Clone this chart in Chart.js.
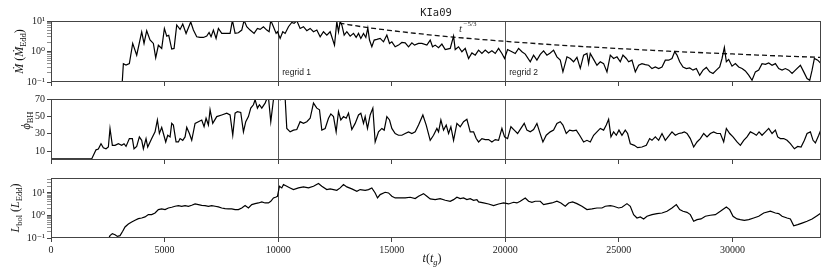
<!DOCTYPE html>
<html>
<head>
<meta charset="utf-8">
<script src="https://cdn.jsdelivr.net/npm/chart.js@4.4.1/dist/chart.umd.min.js"></script>
<style>
  html, body { margin: 0; padding: 0; background: #fff; }
  #wrap { position: relative; width: 830px; height: 277px; }
  canvas { position: absolute; left: 0; }
</style>
</head>
<body>
<div id="wrap">
  <canvas id="mdotChart" width="830" height="90" style="top:0"></canvas>
  <canvas id="phiChart" width="830" height="80" style="top:90px"></canvas>
  <canvas id="lbolChart" width="830" height="107" style="top:170px"></canvas>
</div>
<script>
// --- DATA ---
const tMdot = [3112, 3186, 3303, 3450, 3597, 3773, 3993, 4096, 4213, 4360, 4507, 4610, 4727, 4874, 4992, 5095, 5183, 5315, 5418, 5535,
  5682, 5800, 5947, 6152, 6269, 6416, 6563, 6710, 6857, 6960, 7047, 7150, 7268, 7370, 7517, 7664, 7884, 7987, 8105, 8251,
  8398, 8501, 8618, 8765, 8941, 9088, 9206, 9353, 9500, 9602, 9676, 9793, 9911, 9970, 10088, 10205, 10308, 10455, 10601, 10704,
  10822, 10968, 11115, 11262, 11409, 11556, 11703, 11850, 11996, 12143, 12290, 12481, 12584, 12657, 12731, 12804, 12907, 13024, 13171, 13318,
  13435, 13538, 13641, 13758, 13861, 13949, 14022, 14125, 14228, 14345, 14492, 14639, 14786, 14904, 15006, 15153, 15300, 15447, 15594, 15741,
  15888, 16005, 16181, 16328, 16548, 16695, 16798, 16915, 17062, 17209, 17356, 17576, 17723, 17796, 17943, 18090, 18237, 18384, 18531, 18677,
  18824, 18971, 19118, 19265, 19411, 19558, 19705, 19852, 19969, 20101, 20292, 20439, 20586, 20733, 20879, 21100, 21246, 21393, 21540, 21687,
  21834, 21980, 22127, 22274, 22421, 22538, 22715, 22861, 23008, 23155, 23302, 23449, 23596, 23669, 23742, 23889, 24036, 24183, 24330, 24477,
  24624, 24770, 24917, 25064, 25181, 25328, 25431, 25578, 25725, 25872, 26018, 26165, 26312, 26459, 26606, 26753, 26900, 27046, 27193, 27340,
  27457, 27560, 27678, 27825, 27972, 28119, 28265, 28412, 28559, 28706, 28853, 29000, 29146, 29293, 29440, 29543, 29646, 29733, 29836, 29983,
  30130, 30277, 30424, 30570, 30717, 30864, 31011, 31158, 31304, 31451, 31598, 31745, 31892, 32038, 32185, 32332, 32479, 32626, 32772, 32993,
  33140, 33286, 33404, 33507, 33609, 33756, 33900];
const mdot = [0.05, 0.40, 0.36, 0.40, 1.84, 0.76, 4.4, 1.84, 4.8, 2.4, 1.84, 0.62, 1.6, 1.26, 5.7, 3.2, 3.4, 1.2, 1.26, 7.4,
  5.3, 8.0, 3.9, 9.3, 5.05, 3.04, 2.89, 2.89, 3.2, 4.2, 3.04, 5.05, 2.68, 5.7, 3.92, 3.92, 3.92, 10.5, 3.92, 4.1,
  5.05, 10.5, 6.5, 5.05, 3.92, 5.7, 5.3, 6.5, 5.05, 4.45, 10.5, 6.5, 3.92, 4.45, 2.68, 4.45, 3.92, 6.5, 9.0, 8.4,
  10.2, 5.7, 6.5, 4.8, 5.7, 4.45, 5.05, 3.04, 4.45, 3.45, 4.45, 1.62, 9.5, 4.45, 9.5, 7.4, 3.45, 4.45, 3.2, 3.92,
  2.89, 3.92, 2.68, 3.92, 2.89, 5.9, 2.37, 1.43, 2.37, 2.49, 2.68, 2.08, 3.45, 1.84, 2.08, 1.43, 1.62, 1.98, 1.93, 1.43,
  1.93, 1.62, 1.84, 1.84, 1.62, 2.37, 1.43, 1.62, 1.33, 1.75, 1.16, 1.26, 3.2, 1.16, 1.43, 0.98, 1.26, 0.59, 0.90, 0.76,
  1.11, 0.86, 1.11, 0.90, 1.05, 0.86, 1.26, 0.86, 0.59, 1.16, 0.98, 0.86, 1.26, 0.98, 0.82, 0.46, 0.76, 0.52, 0.80, 1.05,
  0.76, 0.90, 1.11, 0.67, 0.52, 0.215, 0.67, 0.59, 0.46, 0.64, 0.28, 0.76, 0.86, 0.40, 0.86, 0.55, 0.355, 0.46, 0.40, 0.215,
  0.76, 0.59, 0.67, 0.46, 0.76, 0.59, 0.46, 0.52, 0.215, 0.355, 0.40, 0.37, 0.355, 0.276, 0.31, 0.276, 0.31, 0.52, 0.52, 0.59,
  0.98, 0.76, 0.46, 0.31, 0.276, 0.29, 0.245, 0.276, 0.167, 0.245, 0.30, 0.215, 0.19, 0.245, 0.31, 0.59, 1.36, 0.46, 0.55, 0.33,
  0.40, 0.31, 0.276, 0.23, 0.167, 0.114, 0.215, 0.245, 0.40, 0.38, 0.42, 0.355, 0.40, 0.276, 0.245, 0.276, 0.245, 0.19, 0.245, 0.355,
  0.215, 0.13, 0.114, 0.245, 0.59, 0.52, 0.40];

// t^-5/3 guide, points
const tFit = [12700, 13800, 15000, 16000, 17500, 20000, 22500, 25000, 27500, 30000, 32000, 33900];
const mdotFit = [8.5, 6.3, 4.84, 3.97, 3.07, 2.15, 1.60, 1.25, 1.0, 0.83, 0.72, 0.64];

const tPhi = [0, 1791, 1982, 2084, 2202, 2305, 2422, 2525, 2598, 2701, 2819, 2966, 3112, 3215, 3303, 3450, 3582, 3655, 3773, 3890,
  3993, 4067, 4184, 4258, 4434, 4581, 4684, 4772, 4874, 4948, 5051, 5139, 5242, 5315, 5388, 5506, 5609, 5682, 5800, 5902,
  5976, 6093, 6196, 6343, 6490, 6636, 6739, 6827, 6930, 7003, 7121, 7297, 7517, 7737, 7884, 8002, 8105, 8207, 8354, 8472,
  8574, 8692, 8795, 8912, 8986, 9088, 9177, 9280, 9426, 9500, 9573, 9676, 9793, 9940, 10088, 10205, 10308, 10381, 10528, 10675,
  10822, 10968, 11115, 11262, 11409, 11556, 11703, 11820, 11923, 12070, 12217, 12320, 12437, 12554, 12657, 12760, 12877, 12995, 13098, 13244,
  13391, 13538, 13641, 13758, 13832, 13934, 14052, 14169, 14272, 14419, 14566, 14669, 14786, 14904, 15006, 15153, 15300, 15447, 15594, 15741,
  15888, 16034, 16181, 16372, 16519, 16695, 16842, 16989, 17062, 17165, 17282, 17400, 17503, 17605, 17723, 17870, 18016, 18163, 18310, 18457,
  18604, 18721, 18824, 18971, 19118, 19265, 19411, 19558, 19705, 19852, 19969, 20101, 20248, 20395, 20542, 20689, 20835, 20953, 21100, 21246,
  21393, 21510, 21657, 21804, 21980, 22127, 22274, 22421, 22538, 22685, 22832, 22979, 23126, 23273, 23449, 23596, 23742, 23889, 24036, 24183,
  24330, 24447, 24550, 24653, 24770, 24888, 25005, 25137, 25282, 25387, 25504, 25681, 25827, 26018, 26209, 26356, 26459, 26606, 26753, 26900,
  27046, 27193, 27340, 27487, 27634, 27780, 27883, 28001, 28147, 28294, 28441, 28588, 28735, 28882, 29028, 29175, 29322, 29469, 29616, 29733,
  29880, 30027, 30203, 30350, 30497, 30643, 30790, 30937, 31055, 31172, 31304, 31451, 31598, 31745, 31892, 31994, 32112, 32259, 32406, 32552,
  32728, 32875, 33022, 33169, 33286, 33433, 33550, 33653, 33800, 33900];
const phi = [1.2, 1.2, 11.7, 12.5, 18.7, 14.1, 12.9, 14.9, 36.2, 16.8, 16.8, 18.7, 16.8, 18.7, 15.6, 24.6, 24.6, 12.9, 15.6, 26.5,
  22.6, 12.9, 24.6, 14.9, 24.6, 32.3, 45.9, 30.4, 37.4, 30.4, 20.7, 28.4, 26.5, 42, 40.1, 20.7, 20.7, 24.6, 22.6, 26.5,
  37.4, 30.4, 22.6, 42, 44, 45.9, 38.2, 47.9, 40.1, 57.6, 42, 49.8, 51.7, 53.7, 51.7, 28.4, 53.7, 55.6, 54.5, 32.3,
  44, 49.8, 59.5, 63.4, 69.2, 59.5, 63.4, 59.5, 65.3, 70, 72, 44, 69.2, 75, 69.2, 75, 71.2, 36.2, 32.3, 34.3,
  35, 44, 42, 44, 47.9, 65.3, 59.5, 57.6, 34.3, 36.2, 47.9, 52.9, 49.8, 32.3, 55.6, 45.9, 49.8, 47.9, 53.7, 35,
  42, 51.7, 53.7, 42, 49.8, 36.2, 51.7, 59.5, 20.7, 32.3, 36.2, 34.3, 49.8, 45.9, 36.2, 30.4, 28.4, 28.4, 30.4, 32.3,
  30.4, 32.3, 40.1, 51.7, 40.1, 22.6, 28.4, 36.2, 32.3, 45.9, 34.3, 40.1, 30.4, 38.2, 22.6, 42, 38.2, 44, 46.7, 32.3,
  32.3, 24.6, 20.7, 24.6, 23.4, 23.4, 20.7, 23.4, 22.6, 36.2, 26.5, 24.6, 38.2, 34.3, 30.4, 36.2, 42, 34.3, 32.3, 35,
  42, 32.3, 20.7, 28.4, 32.3, 34.3, 42, 44, 40.1, 30.4, 34.3, 33.5, 34.3, 28.4, 20.7, 22.6, 20.7, 28.4, 32.3, 36.2,
  34.3, 40.1, 46.7, 26.5, 32.3, 28.4, 34.3, 28.4, 34.3, 30.4, 18.7, 16.8, 14.1, 14.9, 16.8, 24.6, 22.6, 26.5, 22.6, 30.4,
  22.6, 27.3, 32.3, 28.4, 30.4, 31.2, 32.3, 30.4, 24.6, 14.9, 20.7, 24.6, 30.4, 26.5, 30.4, 32.3, 30.4, 30.4, 20.7, 36.2,
  30.4, 26.5, 20.7, 16.8, 22.6, 26.5, 32.3, 30.4, 28.4, 32.3, 28.4, 32.3, 36.2, 30.4, 34.3, 26.5, 24.6, 24.6, 22.6, 18.7,
  12.9, 15.6, 14.9, 22.6, 30.4, 32.3, 22.6, 19.5, 28.4, 35];

const tLbol = [2525, 2598, 2701, 2819, 2922, 3039, 3156, 3259, 3406, 3553, 3700, 3846, 3993, 4140, 4287, 4434, 4581, 4727, 4874, 5021,
  5168, 5315, 5462, 5609, 5755, 5902, 6049, 6196, 6343, 6490, 6636, 6783, 6930, 7077, 7224, 7370, 7517, 7664, 7811, 7958,
  8105, 8251, 8398, 8545, 8692, 8839, 8986, 9133, 9280, 9426, 9573, 9676, 9794, 9911, 9970, 10058, 10161, 10234, 10381, 10528,
  10675, 10895, 11115, 11336, 11556, 11776, 11923, 12143, 12290, 12437, 12584, 12731, 12877, 13024, 13244, 13465, 13611, 13832, 13979, 14125,
  14272, 14375, 14492, 14712, 14859, 15006, 15153, 15373, 15594, 15814, 16034, 16181, 16401, 16548, 16695, 16915, 17135, 17356, 17576, 17723,
  17870, 18016, 18163, 18310, 18457, 18604, 18751, 18824, 19044, 19265, 19485, 19705, 19925, 20145, 20366, 20513, 20660, 20879, 21026, 21173,
  21320, 21467, 21540, 21687, 21834, 22054, 22274, 22450, 22641, 22788, 22964, 23155, 23375, 23596, 23816, 24036, 24256, 24403, 24624, 24770,
  24991, 25137, 25358, 25504, 25651, 25798, 25945, 26092, 26239, 26459, 26679, 26900, 27120, 27340, 27531, 27678, 27825, 28001, 28147, 28294,
  28441, 28617, 28808, 29028, 29249, 29469, 29733, 29880, 30027, 30203, 30350, 30526, 30717, 30937, 31158, 31378, 31672, 31892, 32038, 32185,
  32406, 32552, 32699, 32875, 33066, 33286, 33507, 33727, 33900];
const lbol = [0.09, 0.127, 0.157, 0.14, 0.118, 0.127, 0.20, 0.31, 0.42, 0.51, 0.61, 0.72, 0.77, 0.86, 1.09, 1.09, 1.29, 1.82, 1.95, 1.82,
  2.15, 2.31, 2.56, 2.74, 2.56, 2.74, 2.56, 2.83, 3.24, 3.03, 2.83, 2.74, 2.56, 2.74, 2.56, 2.39, 2.15, 2.01, 1.95, 1.95,
  1.82, 1.82, 2.15, 2.74, 2.15, 3.03, 3.35, 3.59, 3.98, 3.59, 3.59, 4.27, 5.99, 6.64, 7.11, 19.8, 16.7, 23.5, 19.8, 16.7,
  14.1, 16.7, 18.5, 16.7, 19.8, 26.0, 19.8, 14.1, 15.1, 14.1, 13.1, 16.7, 23.5, 18.5, 15.1, 11.9, 14.1, 13.1, 14.1, 16.7,
  10, 5.99, 8.43, 10.7, 10, 7.11, 5.99, 5.99, 5.99, 6.42, 5.60, 7.11, 9.34, 7.11, 5.41, 5.05, 5.60, 4.72, 4.27, 5.05,
  6.42, 5.60, 5.99, 5.05, 5.60, 4.72, 5.05, 3.98, 3.59, 3.24, 2.74, 3.24, 3.59, 3.24, 3.85, 3.59, 4.27, 5.99, 4.27, 3.85,
  4.27, 4.27, 4.27, 3.03, 3.24, 3.59, 4.27, 3.59, 2.56, 3.59, 3.98, 3.35, 2.56, 1.82, 1.95, 2.15, 2.15, 2.56, 2.74, 2.56,
  2.15, 2.31, 3.35, 2.56, 1.09, 0.77, 0.86, 0.70, 0.92, 1.09, 1.21, 1.29, 1.54, 2.15, 3.03, 1.82, 1.54, 1.38, 1.09, 0.55,
  0.65, 0.70, 0.92, 1.02, 1.09, 1.54, 2.39, 1.82, 0.92, 0.70, 0.65, 0.61, 0.65, 0.77, 0.92, 1.29, 1.54, 1.29, 1.21, 0.92,
  0.77, 0.70, 0.35, 0.39, 0.46, 0.55, 0.70, 0.98, 1.29];

const xTicks = [0, 5000, 10000, 15000, 20000, 25000, 30000];
const phiTicks = [10, 30, 50, 70];
const regridTimes = [10000, 20000];
const regridLabels = ['regrid 1', 'regrid 2'];

const SERIF = '"Liberation Serif", "DejaVu Serif", serif';
const FRAME = '#444';

function pts(ts, vs) { return ts.map((t, i) => ({ x: t, y: vs[i] })); }

function isDecade(v) {
    const e = Math.log10(v);
    return Math.abs(e - Math.round(e)) < 1e-6;
}

function logTicks(scale) {
    const out = [];
    for (let d = -1; d <= 1; d++) {
        for (let k = 1; k <= 9; k++) {
            const v = k * Math.pow(10, d);
            if (v >= scale.min * 0.999 && v <= scale.max * 1.001) out.push({ value: v });
        }
    }
    scale.ticks = out;
}

const supers = { '-1': '10\u207B\u00B9', '0': '10\u2070', '1': '10\u00B9' };

// rich text (sub/superscripts), optionally rotated
function drawRich(ctx, x, y, parts, rotate) {
    ctx.save();
    ctx.translate(x, y);
    if (rotate) ctx.rotate(-Math.PI / 2);
    let w = 0;
    parts.forEach(p => { ctx.font = p.font; p.w = ctx.measureText(p.text).width; w += p.w; });
    let cx = -w / 2;
    ctx.fillStyle = '#111';
    ctx.textAlign = 'left';
    ctx.textBaseline = 'alphabetic';
    parts.forEach(p => { ctx.font = p.font; ctx.fillText(p.text, cx, p.dy || 0); cx += p.w; });
    ctx.restore();
}

const IT = 'italic 12px ' + SERIF;
const RM = '12px ' + SERIF;
const SUB = '8.5px ' + SERIF;

// frame + regrid lines, shared by all panels
const framePlugin = {
    id: 'frame',
    beforeDatasetsDraw(chart) {
        const { ctx, chartArea: a, scales: { x } } = chart;
        ctx.save();
        ctx.strokeStyle = '#555';
        ctx.lineWidth = 1;
        regridTimes.forEach(t => {
            const px = Math.round(x.getPixelForValue(t)) + 0.5;
            ctx.beginPath();
            ctx.moveTo(px, a.top);
            ctx.lineTo(px, a.bottom);
            ctx.stroke();
        });
        ctx.restore();
    },
    afterDraw(chart) {
        const { ctx, chartArea: a } = chart;
        ctx.save();
        ctx.strokeStyle = FRAME;
        ctx.lineWidth = 1;
        ctx.strokeRect(a.left + 0.5, a.top + 0.5, a.right - a.left - 1, a.bottom - a.top - 1);
        ctx.restore();
    }
};

function baseOptions(cfg) {
    return {
        responsive: false,
        animation: false,
        devicePixelRatio: 1,
        layout: { padding: { top: cfg.top, right: 9, left: 0, bottom: 0 } },
        plugins: { legend: { display: false }, tooltip: { enabled: false } },
        elements: { point: { radius: 0 }, line: { borderColor: '#000', borderWidth: 1.2, tension: 0 } },
        scales: {
            x: {
                type: 'linear',
                min: 0,
                max: 33900,
                afterBuildTicks: s => { s.ticks = xTicks.map(v => ({ value: v })); },
                afterFit: s => { s.height = cfg.xh; },
                border: { display: false },
                grid: { display: true, drawOnChartArea: false, drawTicks: true, tickLength: 4, color: FRAME },
                ticks: {
                    display: cfg.xLabels,
                    maxRotation: 0,
                    autoSkip: false,
                    padding: 2,
                    color: '#222',
                    font: { family: SERIF, size: 10 },
                    callback: v => String(v)
                }
            },
            y: cfg.y
        }
    };
}

function yAxis(extra) {
    return Object.assign({
        afterFit: s => { s.width = 51; },
        border: { display: false },
        grid: {
            display: true, drawOnChartArea: false, drawTicks: true, tickLength: 4,
            color: FRAME,
            tickWidth: c => (c.tick && c.tick.value > 0 && !isDecade(c.tick.value) && extra.type === 'logarithmic') ? 0.6 : 1
        },
        ticks: {
            autoSkip: false,
            padding: 2,
            color: '#222',
            font: { family: SERIF, size: 10 },
            callback: extra.type === 'logarithmic'
                ? (v => isDecade(v) ? supers[String(Math.round(Math.log10(v)))] : '')
                : (v => String(v))
        }
    }, extra);
}

// --- ACCRETION RATE PANEL ---
new Chart(document.getElementById('mdotChart'), {
    type: 'line',
    data: {
        datasets: [
            { data: pts(tMdot, mdot), borderColor: '#000', borderWidth: 1.2 },
            { data: pts(tFit, mdotFit), borderColor: '#111', borderWidth: 1.3, borderDash: [5, 3], cubicInterpolationMode: 'monotone' }
        ]
    },
    options: baseOptions({
        top: 21, xh: 8, xLabels: false,
        y: yAxis({ type: 'logarithmic', min: 0.1, max: 10, afterBuildTicks: logTicks })
    }),
    plugins: [framePlugin, {
        id: 'mdotText',
        afterDraw(chart) {
            const { ctx, chartArea: a, scales: { x } } = chart;
            ctx.save();
            // title
            ctx.fillStyle = '#222';
            ctx.font = '10.5px "DejaVu Sans Mono", monospace';
            ctx.textAlign = 'center';
            ctx.fillText('KIa09', (a.left + a.right) / 2, 16);
            // regrid labels
            ctx.font = '8.5px "Liberation Sans", "DejaVu Sans", sans-serif';
            ctx.textAlign = 'left';
            ctx.fillStyle = '#222';
            regridTimes.forEach((t, i) => ctx.fillText(regridLabels[i], x.getPixelForValue(t) + 4, 75));
            // t^-5/3 annotation
            ctx.fillStyle = '#333';
            ctx.font = 'italic 11px ' + SERIF;
            ctx.fillText('t', 459, 32);
            ctx.font = '7px ' + SERIF;
            ctx.fillText('\u22125/3', 463.5, 26);
            ctx.restore();
            drawRich(ctx, 23, (a.top + a.bottom) / 2, [
                { text: '\u1E40', font: IT },
                { text: ' (', font: RM },
                { text: '\u1E40', font: IT },
                { text: 'Edd', font: SUB, dy: 3 },
                { text: ')', font: RM }
            ], true);
        }
    }]
});

// --- SPIN / FLUX PANEL ---
new Chart(document.getElementById('phiChart'), {
    type: 'line',
    data: { datasets: [{ data: pts(tPhi, phi), borderColor: '#000', borderWidth: 1.2 }] },
    options: baseOptions({
        top: 9, xh: 10, xLabels: false,
        y: yAxis({ type: 'linear', min: 0, max: 70, afterBuildTicks: s => { s.ticks = phiTicks.map(v => ({ value: v })); } })
    }),
    plugins: [framePlugin, {
        id: 'phiText',
        afterDraw(chart) {
            const { ctx, chartArea: a } = chart;
            drawRich(ctx, 30, (a.top + a.bottom) / 2 - 9, [
                { text: '\u03D5', font: IT },
                { text: 'BH', font: SUB, dy: 3 }
            ], true);
        }
    }]
});

// --- LUMINOSITY PANEL ---
new Chart(document.getElementById('lbolChart'), {
    type: 'line',
    data: { datasets: [{ data: pts(tLbol, lbol), borderColor: '#000', borderWidth: 1.2 }] },
    options: baseOptions({
        top: 8, xh: 39, xLabels: true,
        y: yAxis({ type: 'logarithmic', min: 0.1, max: 46, afterBuildTicks: logTicks })
    }),
    plugins: [framePlugin, {
        id: 'lbolText',
        afterDraw(chart) {
            const { ctx, chartArea: a } = chart;
            drawRich(ctx, 19, (a.top + a.bottom) / 2, [
                { text: 'L', font: IT },
                { text: 'bol', font: SUB, dy: 3 },
                { text: ' (', font: RM },
                { text: 'L', font: IT },
                { text: 'Edd', font: SUB, dy: 3 },
                { text: ')', font: RM }
            ], true);
            drawRich(ctx, 432, 92, [
                { text: 't', font: IT },
                { text: '(', font: RM },
                { text: 't', font: IT },
                { text: 'g', font: 'italic 8.5px ' + SERIF, dy: 3 },
                { text: ')', font: RM }
            ], false);
        }
    }]
});
</script>
</body>
</html>
